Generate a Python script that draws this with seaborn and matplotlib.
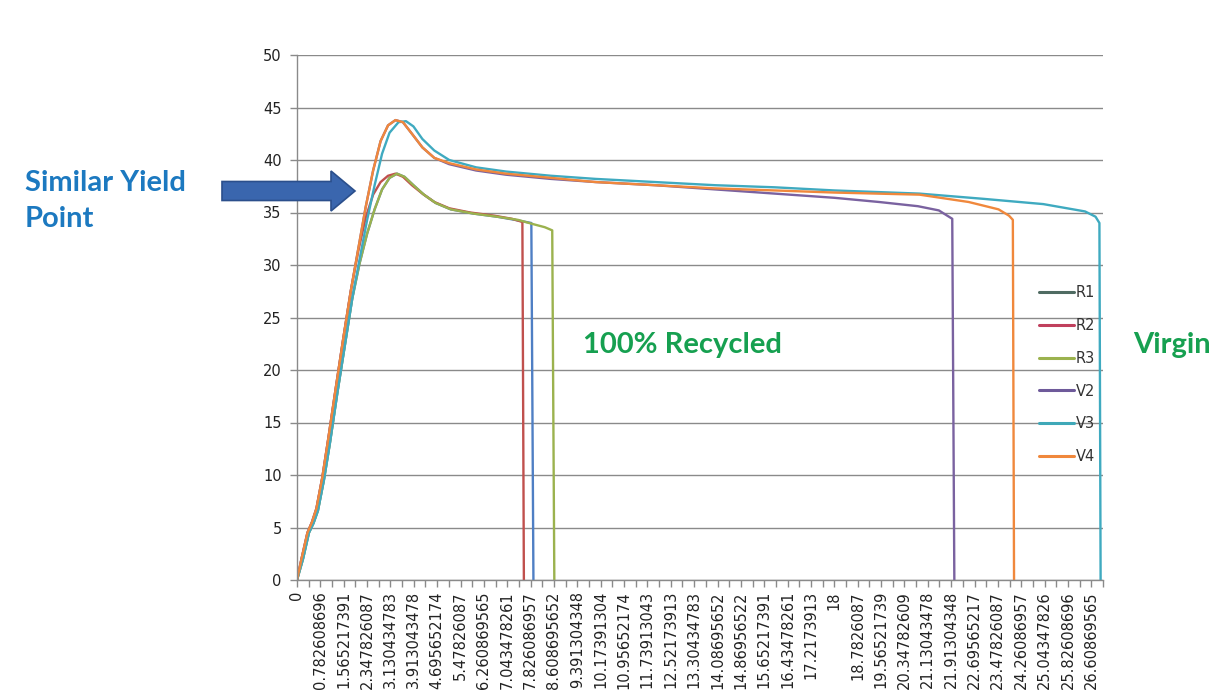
import matplotlib
matplotlib.use("Agg")
import matplotlib.pyplot as plt
import matplotlib.patches as mpatches
from matplotlib.lines import Line2D
import pandas as pd
import seaborn as sns

# strain (x) / stress (y) curves
r1_x = [0, 0.2, 0.4, 0.55, 0.7, 0.9, 1.1, 1.35, 1.6, 1.85, 2.1, 2.35, 2.6, 2.85, 3.1, 3.35, 3.6, 3.9, 4.25, 4.65, 5.15, 5.9, 6.7, 7.3, 7.85, 7.92]
r1_y = [0, 2.0, 4.5, 5.4, 6.6, 9.5, 13.0, 17.8, 22.3, 26.8, 30.2, 33.0, 35.3, 37.2, 38.3, 38.7, 38.4, 37.6, 36.7, 35.9, 35.3, 34.9, 34.6, 34.3, 34.0, 0]
r2_x = [0, 0.15, 0.35, 0.5, 0.65, 0.85, 1.05, 1.3, 1.55, 1.8, 2.05, 2.3, 2.55, 2.8, 3.05, 3.3, 3.55, 3.85, 4.2, 4.6, 5.1, 5.8, 6.6, 7.2, 7.55, 7.6]
r2_y = [0, 2.0, 4.5, 5.5, 6.8, 9.8, 13.5, 18.3, 23.0, 27.5, 31.3, 34.5, 36.7, 37.9, 38.5, 38.7, 38.4, 37.6, 36.8, 36.0, 35.4, 35.0, 34.7, 34.4, 34.1, 0]
r3_x = [0, 0.2, 0.4, 0.55, 0.7, 0.9, 1.1, 1.35, 1.6, 1.85, 2.1, 2.35, 2.6, 2.85, 3.1, 3.35, 3.6, 3.9, 4.25, 4.65, 5.15, 5.9, 6.7, 7.4, 7.9, 8.3, 8.55, 8.62]
r3_y = [0, 2.0, 4.5, 5.4, 6.6, 9.5, 13.0, 17.8, 22.3, 26.8, 30.2, 33.0, 35.3, 37.2, 38.3, 38.7, 38.4, 37.6, 36.7, 35.9, 35.3, 34.9, 34.6, 34.3, 33.9, 33.6, 33.3, 0]
v2_x = [0, 0.15, 0.35, 0.5, 0.65, 0.85, 1.05, 1.3, 1.55, 1.8, 2.05, 2.3, 2.55, 2.8, 3.05, 3.3, 3.55, 3.85, 4.2, 4.6, 5.1, 6.0, 7.0, 8.5, 10, 12, 14, 16, 18, 19.5, 20.8, 21.5, 21.95, 22.02]
v2_y = [0, 2.0, 4.5, 5.5, 6.8, 9.8, 13.5, 18.3, 23.0, 27.5, 31.5, 35.5, 39.0, 41.8, 43.3, 43.8, 43.6, 42.5, 41.2, 40.2, 39.6, 39.0, 38.6, 38.2, 37.9, 37.6, 37.2, 36.8, 36.4, 36.0, 35.6, 35.2, 34.4, 0]
v3_x = [0, 0.2, 0.4, 0.55, 0.7, 0.9, 1.1, 1.35, 1.6, 1.85, 2.1, 2.35, 2.6, 2.85, 3.1, 3.4, 3.65, 3.9, 4.2, 4.6, 5.1, 6.0, 7.0, 8.5, 10, 12, 14, 16, 18, 20.85, 23, 25, 26.4, 26.75, 26.88, 26.92]
v3_y = [0, 2.0, 4.5, 5.4, 6.6, 9.5, 13.0, 17.8, 22.3, 26.8, 30.6, 34.3, 37.6, 40.6, 42.6, 43.6, 43.7, 43.2, 42.0, 40.9, 40.0, 39.3, 38.9, 38.5, 38.2, 37.9, 37.6, 37.4, 37.1, 36.8, 36.3, 35.8, 35.1, 34.6, 34.0, 0]
v4_x = [0, 0.15, 0.35, 0.5, 0.65, 0.85, 1.05, 1.3, 1.55, 1.8, 2.05, 2.3, 2.55, 2.8, 3.05, 3.3, 3.55, 3.85, 4.2, 4.6, 5.1, 6.0, 7.0, 8.5, 10, 12, 14, 16, 18, 20.85, 22.5, 23.5, 23.85, 23.98, 24.02]
v4_y = [0, 2.0, 4.5, 5.5, 6.8, 9.8, 13.5, 18.3, 23.0, 27.5, 31.5, 35.5, 39.0, 41.8, 43.3, 43.8, 43.6, 42.5, 41.2, 40.2, 39.7, 39.1, 38.7, 38.3, 37.9, 37.6, 37.3, 37.1, 36.9, 36.7, 36.0, 35.3, 34.7, 34.3, 0]

series_names = ["R1", "R2", "R3", "V2", "V3", "V4"]
series_x = [r1_x, r2_x, r3_x, v2_x, v3_x, v4_x]
series_y = [r1_y, r2_y, r3_y, v2_y, v3_y, v4_y]

x_tick_labels = ["0", "0.782608696", "1.565217391", "2.347826087", "3.130434783",
                 "3.913043478", "4.695652174", "5.47826087", "6.260869565", "7.043478261",
                 "7.826086957", "8.608695652", "9.391304348", "10.17391304", "10.95652174",
                 "11.73913043", "12.52173913", "13.30434783", "14.08695652", "14.86956522",
                 "15.65217391", "16.43478261", "17.2173913", "18", "18.7826087",
                 "19.56521739", "20.34782609", "21.13043478", "21.91304348", "22.69565217",
                 "23.47826087", "24.26086957", "25.04347826", "25.82608696", "26.60869565"]
y_ticks = [0, 5, 10, 15, 20, 25, 30, 35, 40, 45, 50]

line_colors = {"R1": "#4F7FC4", "R2": "#C0504D", "R3": "#9BB24E",
               "V2": "#7A62A0", "V3": "#3FAAC0", "V4": "#F0883C"}
legend_colors = {"R1": "#4F6B62", "R2": "#C0405D", "R3": "#9BB24E",
                 "V2": "#6E5A9A", "V3": "#3FA8B8", "V4": "#F0883C"}

rows = []
for name, xs, ys in zip(series_names, series_x, series_y):
    for xv, yv in zip(xs, ys):
        rows.append({"series": name, "x": xv, "y": yv})
df = pd.DataFrame(rows)

sns.set_style("white")
plt.rcParams["font.family"] = ["DejaVu Sans"]

W, H = 1221, 693
fig = plt.figure(figsize=(W / 100, H / 100), dpi=100)
ax = fig.add_axes([297 / W, 1 - 580 / H, (1103 - 297) / W, (580 - 55) / H])

for name in series_names:
    sub = df[df["series"] == name]
    sns.lineplot(data=sub, x="x", y="y", sort=False, estimator=None,
                 color=line_colors[name], linewidth=1.7, ax=ax, legend=False)

step = 18 / 23
ax.set_xlim(0, 27.0)
ax.set_ylim(0, 50)
ax.set_xticks([i * step for i in range(len(x_tick_labels))])
ax.set_xticklabels(x_tick_labels, rotation=90, fontsize=10.5, color="#222222")
ax.set_xticks([(i + 0.5) * step for i in range(len(x_tick_labels))], minor=True)
ax.set_yticks(y_ticks)
ax.set_yticklabels([str(v) for v in y_ticks], fontsize=10.5, color="#222222")
ax.set_xlabel("")
ax.set_ylabel("")

ax.grid(axis="y", color="#8a8a8a", linewidth=1.0)
ax.grid(axis="x", visible=False)
ax.set_axisbelow(True)
for side in ["top", "right"]:
    ax.spines[side].set_visible(False)
for side in ["left", "bottom"]:
    ax.spines[side].set_color("#8a8a8a")
    ax.spines[side].set_linewidth(1.0)
ax.tick_params(axis="x", which="both", direction="out", length=5, color="#8a8a8a", width=1, pad=3, bottom=True)
ax.tick_params(axis="y", which="major", direction="out", length=5, color="#8a8a8a", width=1, pad=6, left=True)

handles = [Line2D([0], [0], color=legend_colors[n], linewidth=2.2) for n in series_names]
fig.legend(handles, series_names, loc="upper left",
           bbox_to_anchor=(1026 / W, 1 - 272 / H), frameon=False,
           fontsize=10.5, handlelength=2.4, handletextpad=0.1,
           labelspacing=1.22, labelcolor="#333333")

# annotations
blue_txt = "#1C79C0"
green_txt = "#16A050"
ann_font = ["Lato", "DejaVu Sans"]
fig.text(25 / W, 1 - 183 / H, "Similar Yield", fontsize=21, fontweight="bold",
         color=blue_txt, family=ann_font, ha="left", va="center")
fig.text(25 / W, 1 - 219 / H, "Point", fontsize=21, fontweight="bold",
         color=blue_txt, family=ann_font, ha="left", va="center")
fig.text(583 / W, 1 - 345 / H, "100% Recycled", fontsize=21, fontweight="bold",
         color=green_txt, family=ann_font, ha="left", va="center")
fig.text(1133 / W, 1 - 345 / H, "Virgin", fontsize=21, fontweight="bold",
         color=green_txt, family=ann_font, ha="left", va="center")

arrow = mpatches.FancyArrow(222 / W, 1 - 191 / H, 133 / W, 0,
                            width=19 / H, head_width=40 / H, head_length=24 / W,
                            length_includes_head=True, transform=fig.transFigure,
                            facecolor="#3A66AE", edgecolor="#2B4F8C", linewidth=1.2)
fig.patches.append(arrow)

fig.savefig("out.png", dpi=100)
